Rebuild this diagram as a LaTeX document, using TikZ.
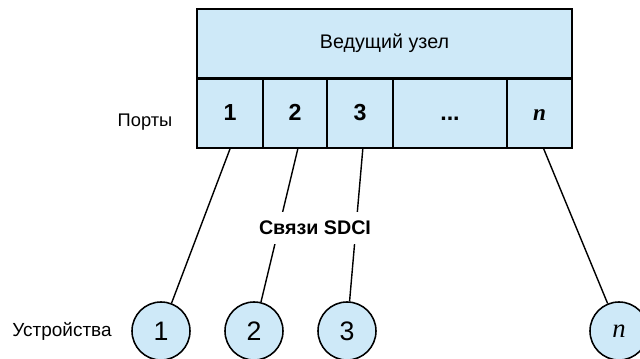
\documentclass[tikz,border=0pt]{standalone}
\usepackage{fontspec}
\setmainfont{Liberation Sans}
\newfontfamily\serifn{Liberation Serif}
\definecolor{nodeblue}{RGB}{206,233,248}

\begin{document}
\begin{tikzpicture}[x=0.025cm, y=-0.025cm,
      port/.style ={rectangle, draw, line width=1.3pt, fill=nodeblue, inner sep = 0pt,
                    minimum height=1.75cm, text height=1.38ex+0.1cm, text depth=0pt,
                    font=\fontsize{16.5}{18}\selectfont\bfseries},
      device/.style ={circle, draw, line width=1.1pt, fill=nodeblue, inner sep = 0pt,
                    minimum size=1.45cm, font=\fontsize{19}{21}\selectfont},
      link/.style ={line width=1pt}]
   \useasboundingbox (0,0) rectangle (640,359);

   \node[port, minimum width=9.375cm, minimum height=1.725cm, text height=1.38ex,
         font=\fontsize{14}{16}\selectfont] (M) at (384.5,43.5) {Ведущий узел};

   \node[port, minimum width=1.65cm] (P1)  at (230,113)  {1};
   \node[port, minimum width=1.6cm]  (P2)  at (295,113)  {2};
   \node[port, minimum width=1.65cm] (P3)  at (360,113)  {3};
   \node[port, minimum width=2.85cm] (P4)  at (450,113)  {...};
   \node[port, minimum width=1.625cm] (Pn) at (539.5,113) {\serifn\itshape n};
   \draw[line width=2pt] (M.south west) -- (M.south east);

   \node[device] (D1) at (161,331) {1};
   \node[device] (D2) at (254,331) {2};
   \node[device] (D3) at (347,331) {3};
   \node[device] (Dn) at (619,331) {\serifn\itshape n};

   \draw[link] (P1.south) to (D1);
   \draw[link] ([xshift=2]P2.south) to (D2);
   \draw[link] ([xshift=2]P3.south) to (D3);
   \draw[link] ([xshift=3]Pn.south) to (Dn);

   \node[fill=white, inner xsep=2pt, minimum height=0.78cm,
         font=\fontsize{14}{16}\selectfont\bfseries] (L) at (315,228) {Связи SDCI};

   \node[font=\fontsize{13}{15}\selectfont] (PL) at (145,122) {Порты};
   \node[font=\fontsize{13.5}{15}\selectfont] (DL) at (62,331) {Устройства};
\end{tikzpicture}
\end{document}
